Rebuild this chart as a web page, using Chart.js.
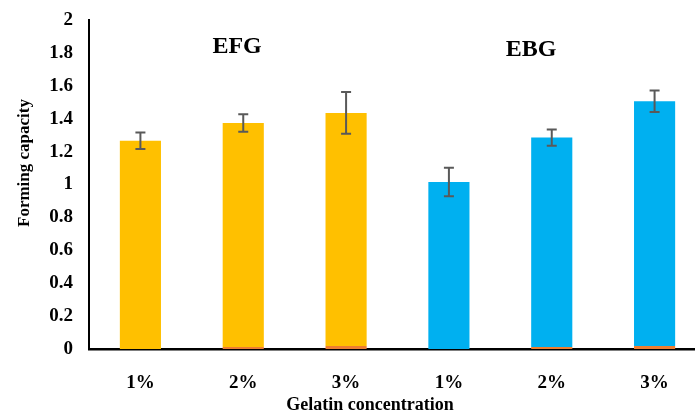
<!DOCTYPE html>
<html>
<head>
<meta charset="utf-8">
<script src="https://cdn.jsdelivr.net/npm/chart.js@4"></script>
<style>
  html, body { margin: 0; padding: 0; background: #fff; overflow: hidden; }
  canvas { display: block; }
</style>
</head>
<body>
<canvas id="chart" width="706" height="417"></canvas>
<script>
// Gelatin concentrations for the two gel types
const categories = ['1%', '2%', '3%', '1%', '2%', '3%'];
const groups = ['EFG', 'EFG', 'EFG', 'EBG', 'EBG', 'EBG'];

// Small base component (orange) and main component of forming capacity
const baseValues = [0.0, 0.012, 0.018, 0.0, 0.012, 0.018];
const mainValues = [1.266, 1.362, 1.417, 1.015, 1.273, 1.488];
// Standard deviation shown as error bars
const errorValues = [0.05, 0.053, 0.127, 0.087, 0.049, 0.066];

const yTicks = [0, 0.2, 0.4, 0.6, 0.8, 1, 1.2, 1.4, 1.6, 1.8, 2];

const groupColors = { EFG: '#FFC000', EBG: '#00B0F0' };
const FONT = '"Liberation Serif", "Times New Roman", serif';

const groupLabels = [
  { text: 'EFG', x: 0.94, y: 1.84 },
  { text: 'EBG', x: 3.8, y: 1.82 }
];

const overlay = {
  id: 'overlay',
  afterDatasetsDraw(chart) {
    const ctx = chart.ctx;
    const xs = chart.scales.x, ys = chart.scales.y;
    ctx.save();
    // error bars on top of the stacked totals
    ctx.strokeStyle = '#595959';
    ctx.lineWidth = 2;
    categories.forEach((c, i) => {
      const total = baseValues[i] + mainValues[i];
      const x = xs.getPixelForValue(i);
      const yHi = ys.getPixelForValue(total + errorValues[i]);
      const yLo = ys.getPixelForValue(total - errorValues[i]);
      ctx.beginPath();
      ctx.moveTo(x, yHi); ctx.lineTo(x, yLo);
      ctx.moveTo(x - 5, yHi); ctx.lineTo(x + 5, yHi);
      ctx.moveTo(x - 5, yLo); ctx.lineTo(x + 5, yLo);
      ctx.stroke();
    });
    // group names
    ctx.fillStyle = '#000';
    ctx.font = 'bold 24px ' + FONT;
    ctx.textAlign = 'center';
    ctx.textBaseline = 'middle';
    groupLabels.forEach(g => {
      ctx.fillText(g.text, xs.getPixelForValue(g.x), ys.getPixelForValue(g.y));
    });
    // axis titles
    ctx.font = 'bold 18px ' + FONT;
    ctx.fillText('Gelatin concentration', 370, 405);
    ctx.font = 'bold 17px ' + FONT;
    ctx.translate(25, 163);
    ctx.rotate(-Math.PI / 2);
    ctx.fillText('Forming capacity', 0, 0);
    ctx.restore();
  }
};

new Chart(document.getElementById('chart'), {
  type: 'bar',
  data: {
    labels: categories,
    datasets: [
      {
        label: 'base',
        data: baseValues,
        backgroundColor: '#ED7D31',
        barPercentage: 0.4,
        categoryPercentage: 1.0
      },
      {
        label: 'Forming capacity',
        data: mainValues,
        backgroundColor: groups.map(g => groupColors[g]),
        barPercentage: 0.4,
        categoryPercentage: 1.0
      }
    ]
  },
  options: {
    responsive: false,
    animation: false,
    devicePixelRatio: 1,
    layout: { padding: { top: 20, left: 0, right: 0, bottom: 0 } },
    plugins: { legend: { display: false }, tooltip: { enabled: false } },
    scales: {
      x: {
        stacked: true,
        grid: { display: false, drawTicks: false },
        border: { display: true, color: '#000', width: 2.5 },
        ticks: { color: '#000', font: { family: FONT, size: 19, weight: 'bold' }, padding: 23 },
        afterFit(scale) { scale.height = 68; scale.paddingLeft = 0; scale.paddingRight = 0; }
      },
      y: {
        stacked: true,
        min: 0,
        max: 2,
        grid: { display: false, drawTicks: false },
        border: { display: true, color: '#000', width: 2 },
        afterBuildTicks(scale) { scale.ticks = yTicks.map(v => ({ value: v })); },
        ticks: {
          color: '#000',
          font: { family: FONT, size: 19, weight: 'bold' },
          padding: 16,
          callback: v => String(v)
        },
        afterFit(scale) { scale.width = 89; scale.paddingTop = 0; scale.paddingBottom = 0; }
      }
    }
  },
  plugins: [overlay]
});
</script>
</body>
</html>
